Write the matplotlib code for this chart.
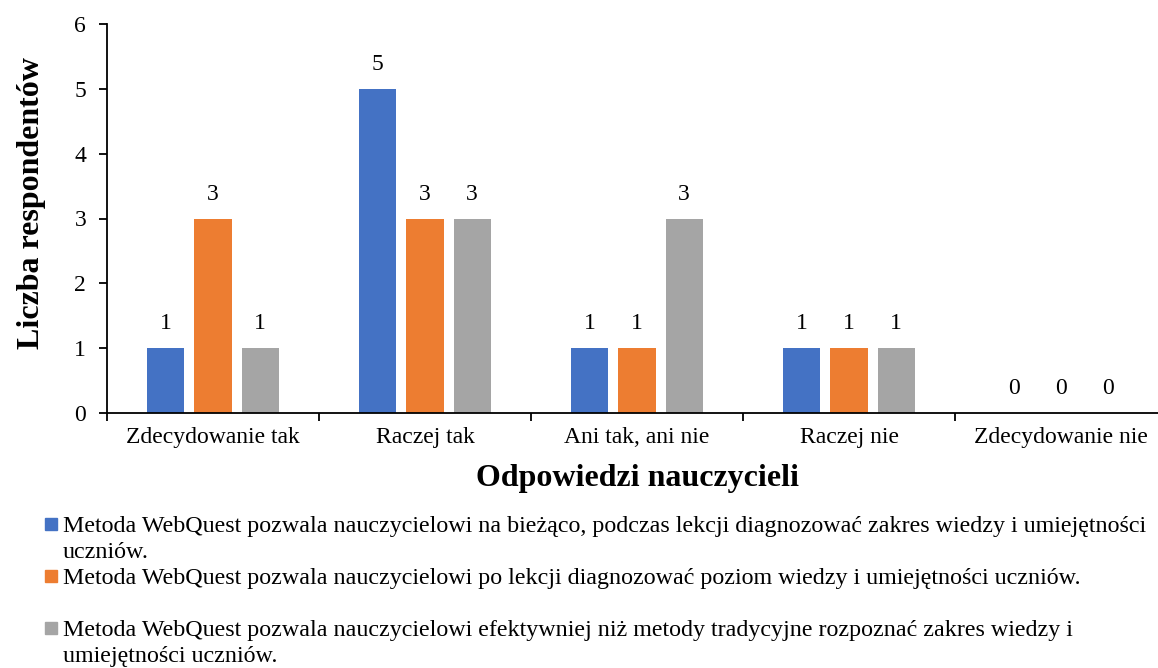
import matplotlib
matplotlib.use("Agg")
import matplotlib.pyplot as plt
from matplotlib.patches import Rectangle
import numpy as np

plt.rcParams.update({
    "font.family": ["Liberation Serif", "DejaVu Serif"],
    "savefig.facecolor": "white", "figure.facecolor": "white",
})

categories = ["Zdecydowanie tak", "Raczej tak", "Ani tak, ani nie",
              "Raczej nie", "Zdecydowanie nie"]
s_biezaco = [1, 5, 1, 1, 0]
s_po_lekcji = [3, 3, 1, 1, 0]
s_efektywniej = [1, 3, 3, 1, 0]
# legend texts, split where the original wraps them
series_labels = [
    ["Metoda WebQuest pozwala nauczycielowi na bieżąco, podczas lekcji "
     "diagnozować zakres wiedzy i umiejętności", "uczniów."],
    ["Metoda WebQuest pozwala nauczycielowi po lekcji diagnozować poziom "
     "wiedzy i umiejętności uczniów.", ""],
    ["Metoda WebQuest pozwala nauczycielowi efektywniej niż metody "
     "tradycyjne rozpoznać zakres wiedzy i", "umiejętności uczniów."],
]
colors = ["#4472C4", "#ED7D31", "#A5A5A5"]

W, H = 1158, 668
fig = plt.figure(figsize=(W / 100, H / 100), dpi=100)
# plot area in pixels: x 107..1167 (runs off the right edge), y 24..413
ax = fig.add_axes([107 / W, 1 - 413 / H, (1167 - 107) / W, (413 - 24) / H])

x = np.arange(len(categories))
width = 0.175
pitch = 0.222
for i, vals in enumerate([s_biezaco, s_po_lekcji, s_efektywniej]):
    pos = x + (i - 1) * pitch
    ax.bar(pos, vals, width, color=colors[i])
    for p, v in zip(pos, vals):
        ax.annotate(str(v), (p, v), xytext=(0, 17.5), textcoords="offset points",
                    ha="center", va="center", fontsize=17)

ax.set_xlim(-0.5, len(categories) - 0.5)
ax.set_ylim(0, 6)
ax.set_yticks(range(7))
ax.set_xticks(x)
ax.set_xticklabels(categories, fontsize=17)
ax.set_xticks(np.arange(len(categories) + 1) - 0.5, minor=True)
ax.tick_params(axis="x", which="major", length=0, pad=10)
ax.tick_params(axis="x", which="minor", length=6, width=1.3, direction="out")
ax.tick_params(axis="y", length=6, width=1.3, direction="out", labelsize=17,
               pad=9)
for s in ["top", "right"]:
    ax.spines[s].set_visible(False)
for s in ["left", "bottom"]:
    ax.spines[s].set_linewidth(1.3)

ax.set_ylabel("Liczba respondentów", fontsize=23, fontweight="bold")
ax.yaxis.set_label_coords(-0.058, 0.54)
ax.set_xlabel("Odpowiedzi nauczycieli", fontsize=23, fontweight="bold")
ax.xaxis.set_label_coords(0.5, -0.13)

# legend drawn by hand: every entry takes two text lines of equal pitch
line_pitch = 26
first_baseline = 532
for k, (lines, col) in enumerate(zip(series_labels, colors)):
    base = first_baseline + 2 * k * line_pitch
    fig.patches.append(Rectangle((45 / W, 1 - (base - 2) / H), 12 / W, 12 / H,
                                 transform=fig.transFigure, color=col))
    for j, txt in enumerate(lines):
        fig.text(63 / W, 1 - (base + j * line_pitch) / H, txt, fontsize=17.3,
                 va="baseline", ha="left")

fig.savefig("out.png", dpi=100)
